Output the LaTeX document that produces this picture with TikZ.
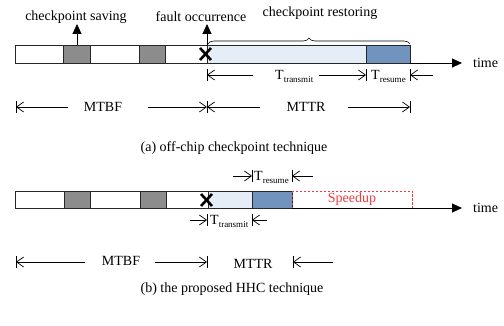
\documentclass[tikz,border=0pt]{standalone}
\usepackage{fontspec}
\setmainfont{Liberation Serif}
\usetikzlibrary{arrows.meta,decorations.pathreplacing}
\definecolor{cgray}{HTML}{8C8C8C}
\definecolor{clight}{HTML}{E5EDF7}
\definecolor{cblue}{HTML}{7094BE}
\definecolor{cred}{HTML}{F03C3C}
\newcommand{\Tsub}[1]{T{\fontsize{9}{10}\selectfont\raisebox{-3pt}{#1}}}
\begin{document}
\begin{tikzpicture}[x=1pt,y=-1pt,
  lbl/.style={font=\fontsize{14}{16}\selectfont, inner sep=0pt},
  seg/.style={draw=black!85, line width=0.8pt},
  dim/.style={-{Straight Barb[length=7pt,width=10pt]}, line width=0.7pt},
  endbar/.style={line width=0.7pt},
  axis/.style={-{Triangle[length=10pt,width=9pt]}, line width=0.9pt},
  cross/.style={line width=2.6pt},
]
\useasboundingbox (0,0) rectangle (504,326);
% ---------- (a) ----------
\draw[seg] (15,45) rectangle (63,63);
\draw[seg, fill=cgray] (63,45) rectangle (90,63);
\draw[seg] (90,45) rectangle (139,63);
\draw[seg, fill=cgray] (139,45) rectangle (165,63);
\draw[seg] (165,45) rectangle (207,63);
\draw[seg, fill=clight] (207,45) rectangle (366,63);
\draw[seg, fill=cblue] (366,45) rectangle (410,63);
\coordinate (aend) at (410,63);
\coordinate (atip) at (462,63);
\draw[axis] (aend) -- (atip);
\node[lbl, anchor=west] (atime) at (473,63) {time};
% up arrows
\coordinate (cs0) at (77,45); \coordinate (cs1) at (77,24);
\draw[axis] (cs0) -- (cs1);
\coordinate (fo0) at (207,45); \coordinate (fo1) at (207,24);
\draw[axis] (fo0) -- (fo1);
\node[lbl] (csave) at (76,17) {checkpoint saving};
\node[lbl] (fault) at (201,17) {fault occurrence};
\node[lbl] (crest) at (320,13) {checkpoint restoring};
\draw[line width=0.6pt, decorate, decoration={brace, amplitude=6pt}] (208,44) -- (410,44);
% X
\draw[cross] (200,48) -- (211,60) (200,60) -- (211,48);
% T row
\draw[endbar] (207,69) -- (207,81);
\draw[dim] (253,75) -- (207,75);
\node[lbl, anchor=base west] (tta) at (275,80) {\Tsub{transmit}};
\draw[dim] (319,75) -- (366,75);
\draw[endbar] (366,69) -- (366,81);
\node[lbl, anchor=base west] (tra) at (371,80) {\Tsub{resume}};
\draw[dim] (433,75) -- (410,75);
\draw[endbar] (410,69) -- (410,81);
% MTBF row
\draw[endbar] (16,101) -- (16,113);
\draw[dim] (68,107) -- (16,107);
\node[lbl] (mtbfa) at (103,107) {MTBF};
\draw[dim] (148,107) -- (207,107);
\draw[endbar] (207,101) -- (207,113);
\draw[dim] (260,107) -- (207,107);
\node[lbl] (mttra) at (306,107) {MTTR};
\draw[dim] (348,107) -- (410,107);
\draw[endbar] (410,101) -- (410,113);
\node[lbl] (capa) at (234,148) {(a) off-chip checkpoint technique};
% ---------- (b) ----------
\draw[seg] (15,191) rectangle (64,208);
\draw[seg, fill=cgray] (64,191) rectangle (90,208);
\draw[seg] (90,191) rectangle (140,208);
\draw[seg, fill=cgray] (140,191) rectangle (166,208);
\draw[seg] (166,191) rectangle (208,208);
\draw[seg, fill=clight] (208,191) rectangle (252,208);
\draw[seg, fill=cblue] (252,191) rectangle (292,208);
\draw[cred, dash pattern=on 2.5pt off 1.5pt, line width=0.7pt] (292,191) rectangle (412,208);
\node[lbl, text=cred] (speed) at (352,199) {Speedup};
\coordinate (bstart) at (292,208);
\coordinate (btip) at (462,208);
\draw[axis] (bstart) -- (btip);
\node[lbl, anchor=west] (btime) at (473,208) {time};
\draw[cross] (201,194) -- (212,206) (201,206) -- (212,194);
% T_resume row
\draw[dim] (233,176) -- (252,176);
\draw[endbar] (252,170) -- (252,182);
\node[lbl, anchor=base west] (trb) at (254,181) {\Tsub{resume}};
\draw[dim] (313,176) -- (292,176);
\draw[endbar] (292,170) -- (292,182);
% T_transmit row
\draw[dim] (190,220) -- (207,220);
\draw[endbar] (207,214) -- (207,226);
\node[lbl, anchor=base west] (ttb) at (210,225) {\Tsub{transmit}};
\draw[dim] (267,220) -- (252,220);
\draw[endbar] (252,214) -- (252,226);
% MTBF row
\draw[endbar] (16,256) -- (16,268);
\draw[dim] (85,262) -- (16,262);
\node[lbl] (mtbfb) at (121,261) {MTBF};
\draw[dim] (155,262) -- (207,262);
\draw[endbar] (207,256) -- (207,268);
\node[lbl] (mttrb) at (253,264) {MTTR};
\draw[dim] (333,262) -- (293,262);
\draw[endbar] (293,256) -- (293,268);
\node[lbl] (capb) at (232,289) {(b) the proposed HHC technique};
\end{tikzpicture}
\end{document}
